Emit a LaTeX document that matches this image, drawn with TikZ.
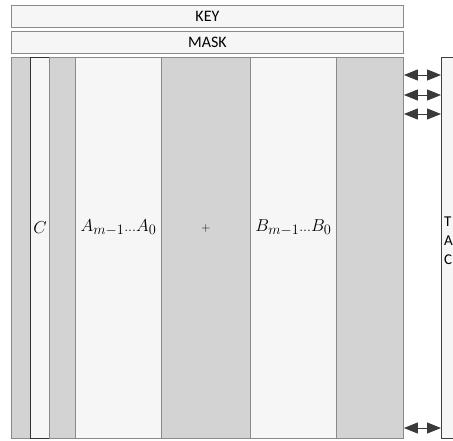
\documentclass[tikz,border=0pt]{standalone}
\usepackage{fontspec}
\setsansfont{Carlito}
\usetikzlibrary{arrows.meta}
\definecolor{colgray}{HTML}{D3D3D3}
\definecolor{colwhite}{HTML}{F6F6F6}
\definecolor{edgegray}{HTML}{8A8A8A}
\definecolor{arrowgray}{HTML}{3A3A3A}
\tikzset{
  bar/.style={draw=edgegray, line width=0.8pt, fill=colwhite, minimum width=392pt, minimum height=22pt, inner sep=0pt, anchor=north west, font=\sffamily\fontsize{16}{19}\selectfont},
  gcol/.style={draw=edgegray, line width=0.9pt, fill=colgray, minimum height=381pt, inner sep=0pt, anchor=north west},
  wcol/.style={draw=edgegray, line width=0.9pt, fill=colwhite, minimum height=381pt, inner sep=0pt, anchor=north west},
  dcol/.style={draw=black!80, line width=0.9pt, fill=colwhite, minimum height=381pt, inner sep=0pt, anchor=north west},
  lbl/.style={font=\fontsize{19}{22}\selectfont},
  dbl/.style={{Triangle[length=14pt,width=11pt]}-{Triangle[length=14pt,width=11pt]}, draw=arrowgray, fill=arrowgray, line width=1pt},
}
\begin{document}
\begin{tikzpicture}[x=1pt,y=-1pt]
\useasboundingbox (0,0) rectangle (453,440);
\fill[white] (0,0) rectangle (453,440);
\begin{scope}
\clip (0,0) rectangle (453,440);
\node[bar] (key) at (11,5) {KEY};
\node[bar] (mask) at (11,31) {MASK};
\node[gcol, minimum width=19pt] (c1) at (11,57) {};
\node[dcol, minimum width=19pt] (c2) at (30,57) {};
\node[gcol, minimum width=26pt] (c3) at (49,57) {};
\node[wcol, minimum width=86pt] (c4) at (75,57) {};
\node[gcol, minimum width=89pt] (c5) at (161,57) {};
\node[wcol, minimum width=86pt] (c6) at (250,57) {};
\node[gcol, minimum width=67pt] (c7) at (336,57) {};
\node[wcol, draw=black!75, minimum width=40pt] (rp) at (441,57) {};
\coordinate (ly) at (0,228);
\node[lbl] (lc) at (c2 |- ly) {$C$};
\node[lbl] (la) at (c4 |- ly) {$A_{m-1}{\scriptstyle\ldots}A_0$};
\node[font=\fontsize{13}{15}\selectfont] (lp) at (c5 |- ly) {$+$};
\node[lbl] (lb) at (c6 |- ly) {$B_{m-1}{\scriptstyle\ldots}B_0$};
\node[anchor=north west, align=left, inner sep=0pt, font=\sffamily\fontsize{15}{19}\selectfont] (rt) at (444,217) {T\\A\\C};
\coordinate (y1) at (0,75);
\coordinate (y2) at (0,95);
\coordinate (y3) at (0,114);
\coordinate (y4) at (0,428);
\draw[dbl] (c7.east |- y1) -- (rp.west |- y1);
\draw[dbl] (c7.east |- y2) -- (rp.west |- y2);
\draw[dbl] (c7.east |- y3) -- (rp.west |- y3);
\draw[dbl] (c7.east |- y4) -- (rp.west |- y4);
\end{scope}
\end{tikzpicture}
\end{document}
